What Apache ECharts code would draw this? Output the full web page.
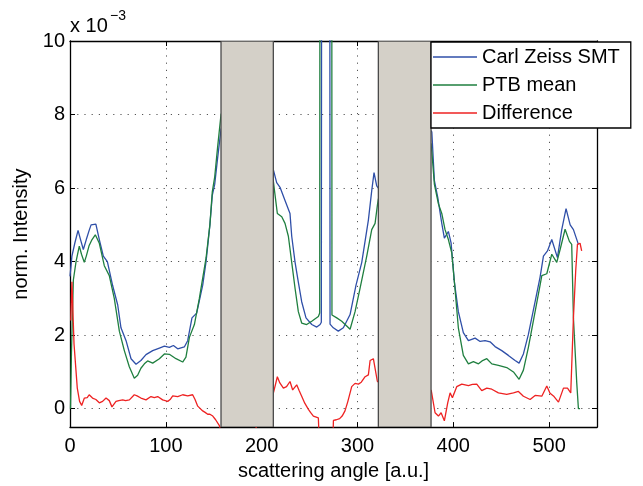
<!DOCTYPE html>
<html><head><meta charset="utf-8">
<script src="https://cdn.jsdelivr.net/npm/echarts@6/dist/echarts.min.js"></script>
<style>html,body{margin:0;padding:0;background:#fff}#c{width:643px;height:486px}</style>
</head><body><div id="c"></div>
<script>
const FONT = '"Liberation Sans", Arial, Helvetica, sans-serif';
const seriesNames = ['Carl Zeiss SMT', 'PTB mean', 'Difference'];
const xTicks = [0, 100, 200, 300, 400, 500];
const yTicks = [0, 2, 4, 6, 8, 10];
const xRange = [0, 550];
const yRange = [-0.5, 10];
const maskedRanges = [[157.6, 212.2], [321.8, 376.8]];

const carlZeiss = [[0,3.6],[2,4.15],[5,4.5],[8.4,4.85],[11,4.6],[13.9,4.33],[17,4.6],[20,4.85],[22,5.0],[27,5.02],[30.6,4.6],[34.8,4.15],[39,4.0],[44.5,3.35],[49.8,2.82],[53.2,2.2],[58.5,1.85],[63.7,1.36],[68.9,1.21],[74,1.31],[79.3,1.47],[86.3,1.58],[93.3,1.65],[98.5,1.70],[103.7,1.67],[107.9,1.72],[112.4,1.63],[119.3,1.68],[122.8,1.85],[127.3,2.47],[132.2,2.6],[138.5,3.36],[142,4.0],[146,5.0],[148.5,5.8],[151,6.1],[154,6.8],[157.6,7.6],[185,9.0],[212.2,6.5],[215.7,6.15],[219.2,6.02],[224.4,5.66],[229.6,5.31],[231.4,4.69],[234.9,3.98],[238.3,3.44],[241.8,2.91],[246.3,2.47],[252.3,2.29],[257.5,2.22],[261,2.29],[262.3,2.35],[262.8,20],[271,20],[271.4,2.3],[274.8,2.2],[280,2.11],[285.3,2.2],[292.3,2.56],[298.5,3.36],[304.5,3.98],[311.4,5.13],[314.9,5.93],[317.3,6.42],[320.1,6.06],[321.8,6.0],[350,8.5],[377.6,7.53],[380.3,6.2],[383.8,5.75],[388,5.04],[390.7,4.64],[394.9,4.82],[397.7,4.51],[401.2,3.44],[405.3,2.64],[410.5,2.07],[415.8,1.85],[422.8,1.92],[428,1.83],[433.2,1.85],[438.4,1.82],[443.6,1.69],[450.6,1.58],[457.5,1.45],[464.5,1.31],[468.7,1.24],[473.2,1.49],[478.4,2.02],[485.4,2.91],[490.6,3.58],[494.1,4.15],[498.3,4.29],[502.8,4.6],[508.7,4.11],[513.2,4.87],[517.7,5.44],[522,5.0],[525.4,4.87],[530.6,4.47]];

const ptbMean = [[0.5,0],[1.5,1.5],[3.5,3.5],[6.3,4.0],[9.7,4.42],[12,4.2],[14.9,3.98],[17,4.15],[20,4.44],[23,4.6],[26.4,4.73],[30.6,4.5],[35.8,3.89],[41,3.62],[46.2,3.0],[51.5,2.11],[56.7,1.58],[61.9,1.14],[67.1,0.83],[70.6,0.91],[74,1.1],[77.6,1.22],[81,1.3],[86.3,1.24],[93.3,1.36],[98.5,1.49],[103.7,1.48],[110.6,1.36],[117.6,1.27],[121,1.40],[124.6,1.94],[129.8,2.29],[135,3.0],[142,4.1],[146,5.0],[148.5,5.9],[151,6.3],[154,7.1],[157.6,8.0],[185,9.5],[212.2,6.2],[213,6.02],[216.4,5.31],[221,5.22],[224.4,5.04],[227.9,4.69],[231.4,3.98],[234.9,3.27],[238.3,2.64],[241.8,2.33],[247,2.29],[252.3,2.38],[259.2,2.51],[260.6,2.6],[261,20],[273.1,20],[273.4,2.55],[274.2,2.51],[278.4,2.47],[283.6,2.38],[288.8,2.25],[292.3,2.16],[297.5,2.64],[302.7,3.27],[309.7,4.15],[314.9,4.87],[318.4,5.04],[320.8,5.53],[321.8,5.7],[350,8.0],[376.8,7.2],[377.6,7.0],[380.3,6.1],[384.5,5.57],[388,5.31],[391.4,4.87],[394.9,4.6],[398.4,4.24],[401.2,3.44],[405.3,2.2],[410.5,1.45],[415.8,1.22],[421,1.28],[426.3,1.22],[430,1.3],[435,1.36],[440.2,1.22],[447.1,1.18],[455.8,1.12],[462.8,1.0],[468.7,0.8],[473.2,1.05],[478.4,1.67],[485.4,2.64],[490.6,3.36],[492.4,3.62],[497.6,3.67],[502.8,4.2],[508,3.98],[511.5,4.33],[516.7,4.88],[521.2,4.55],[523.6,4.47],[525.4,2.47],[528.9,0.69],[530.6,0],[532.3,0]];

const difference = [[0.8,2.4],[2,3.45],[4.2,1.76],[7.6,0.56],[10,0.2],[12.2,0.09],[15,0.29],[18,0.3],[20,0.38],[23.5,0.29],[27,0.25],[30.6,0.16],[34,0.2],[37.6,0.29],[41,0.22],[43.8,0.05],[48,0.2],[51,0.22],[55,0.24],[58,0.22],[62,0.24],[67.1,0.38],[70,0.35],[74,0.29],[79.3,0.24],[84.5,0.33],[88,0.3],[91.5,0.33],[96.7,0.24],[102,0.2],[104.5,0.25],[107.2,0.35],[112.4,0.33],[117.6,0.38],[122.8,0.35],[128,0.38],[130.5,0.25],[133.3,0.07],[138.5,-0.06],[141,-0.1],[143.7,-0.15],[146,-0.15],[149,-0.2],[152,-0.3],[155.9,-0.46],[158,-0.7],[185,-1],[212.5,0.45],[213,0.47],[216.4,0.87],[219,0.7],[222.7,0.56],[226,0.6],[229.6,0.74],[232.4,0.51],[236.6,0.65],[239,0.5],[241.8,0.34],[245,0.15],[248.8,-0.02],[251,-0.1],[254,-0.2],[259.2,-0.25],[260.5,-0.3],[261,-1.5],[274,-1.5],[274.9,-0.32],[278,-0.3],[281.4,-0.27],[284,-0.2],[287,-0.06],[290,0.2],[294,0.6],[297.5,0.69],[301,0.67],[304,0.72],[308,0.87],[311.4,0.92],[313.2,1.31],[316.6,1.36],[320.8,0.74],[322,0.7],[377,0.5],[377.6,0.47],[381,-0.11],[384.5,-0.2],[387.3,-0.11],[390.7,-0.33],[394.2,0.16],[396.7,0.43],[399.1,0.3],[403.6,0.6],[408.9,0.67],[415.8,0.63],[420,0.66],[424.5,0.67],[429.7,0.49],[435,0.56],[440.2,0.53],[447.1,0.43],[455.8,0.39],[462.8,0.43],[468,0.47],[473.2,0.34],[480.2,0.25],[485.4,0.36],[492.4,0.34],[497.6,0.62],[501,0.42],[505.2,0.33],[509.8,0.18],[515,0.56],[519.2,0.56],[522.6,0.43],[525.4,2.47],[527.8,3.76],[529.6,4.47],[532.3,4.5],[534,4.29]];

const colors = ['#2f4fa8', '#1f7f3f', '#ee2222'];

const chart = echarts.init(document.getElementById('c'), null, {renderer: 'canvas'});

function baseX(pos, show) {
  return {
    type: 'value', position: pos, min: xRange[0], max: xRange[1], interval: 100,
    axisLine: {show: true, onZero: false, lineStyle: {color: '#000', width: 1.3}},
    axisTick: {show: true, inside: true, length: 5, lineStyle: {color: '#000', width: 1}},
    axisLabel: {show: show, color: '#000', fontSize: 20, fontFamily: FONT, margin: 9, showMaxLabel: false,
      formatter: v => xTicks.includes(v) ? String(v) : ''},
    splitLine: {show: show, lineStyle: {color: '#555', width: 1, type: [1.2, 6]}}
  };
}
function baseY(pos, show) {
  return {
    type: 'value', position: pos, min: yRange[0], max: yRange[1], interval: 2,
    axisLine: {show: true, onZero: false, lineStyle: {color: '#000', width: 1.3}},
    axisTick: {show: true, inside: true, length: 5, lineStyle: {color: '#000', width: 1},
      customValues: yTicks},
    axisLabel: {show: show, color: '#000', fontSize: 20, fontFamily: FONT, margin: 5,
      customValues: yTicks, formatter: v => yTicks.includes(v) ? String(v) : ''},
    splitLine: {show: show, lineStyle: {color: '#555', width: 1, type: [1.2, 6]}}
  };
}

const xMain = baseX('bottom', true);
xMain.name = 'scattering angle [a.u.]';
xMain.nameLocation = 'middle';
xMain.nameGap = 29;
xMain.nameTextStyle = {color: '#000', fontSize: 20, fontFamily: FONT};
const yMain = baseY('left', true);
yMain.name = 'norm. Intensity';
yMain.nameLocation = 'middle';
yMain.nameGap = 28;
yMain.nameTextStyle = {color: '#000', fontSize: 20, fontFamily: FONT};

const lineSeries = [carlZeiss, ptbMean, difference].map((d, i) => ({
  name: seriesNames[i], type: 'line', data: d, xAxisIndex: 0, yAxisIndex: 0,
  showSymbol: false, symbol: 'none', clip: true, smooth: false, z: 2,
  lineStyle: {color: colors[i], width: 1.3}, itemStyle: {color: colors[i]},
  emphasis: {disabled: true}, animation: false
}));

chart.setOption({
  animation: false,
  textStyle: {fontFamily: FONT},
  grid: {left: 70, right: 46, top: 41, bottom: 52, containLabel: false},
  xAxis: [xMain, baseX('top', false)],
  yAxis: [yMain, baseY('right', false)],
  legend: {
    orient: 'vertical', left: 431, top: 42, z: 20,
    data: seriesNames, icon: 'rect', itemWidth: 44, itemHeight: 1.6, itemGap: 8,
    padding: [5, 11, 5, 2], backgroundColor: '#fff', borderColor: '#000', borderWidth: 1.3,
    textStyle: {color: '#000', fontSize: 20, fontFamily: FONT, lineHeight: 20},
    selectedMode: false
  },
  graphic: [
    {type: 'text', left: 70, top: 16, style: {text: 'x 10', fontSize: 20, fontFamily: FONT, fill: '#000'}},
    {type: 'text', left: 110, top: 9, style: {text: '\u22123', fontSize: 14, fontFamily: FONT, fill: '#000'}}
  ],
  series: lineSeries.concat([{
    name: 'masked', type: 'custom', z: 5, silent: true, clip: true,
    data: maskedRanges.map(r => [r[0], r[1], yRange[0], yRange[1]]),
    encode: {x: [0, 1], y: [2, 3]},
    renderItem: (params, api) => {
      const p0 = api.coord([api.value(0), api.value(3)]);
      const p1 = api.coord([api.value(1), api.value(2)]);
      return {type: 'rect', shape: {x: p0[0], y: p0[1], width: p1[0] - p0[0], height: p1[1] - p0[1]},
        style: {fill: '#d4d0c8', stroke: '#4a4a4a', lineWidth: 1.3}};
    }
  }])
});
</script></body></html>
